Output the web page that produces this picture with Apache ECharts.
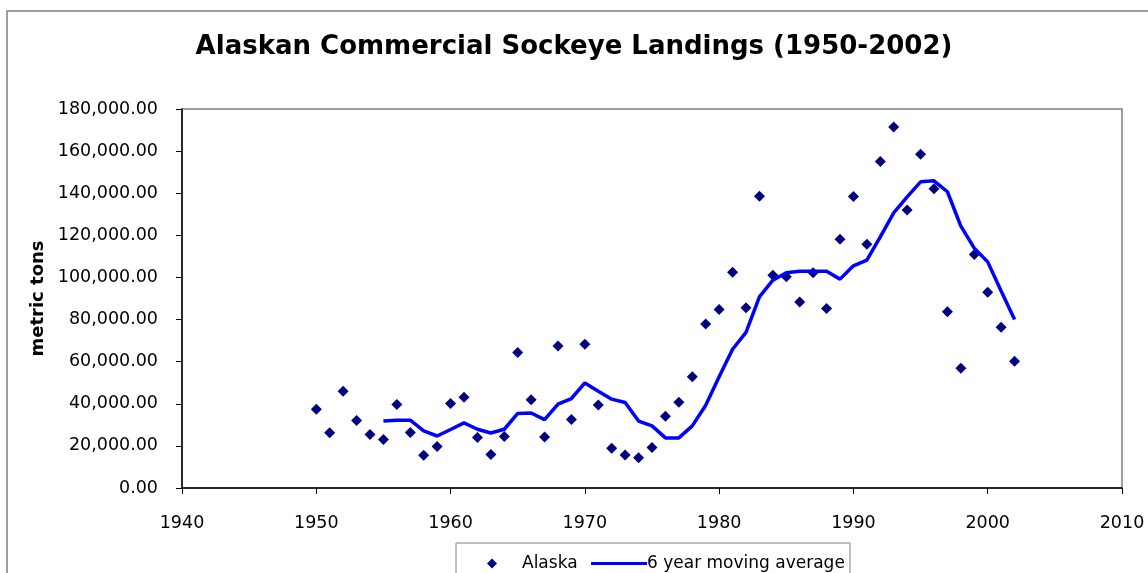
<!DOCTYPE html>
<html>
<head>
<meta charset="utf-8">
<script src="https://cdn.jsdelivr.net/npm/echarts@6/dist/echarts.min.js"></script>
<style>
  html, body { margin: 0; padding: 0; background: #fff; }
  #chart { width: 1148px; height: 573px; }
</style>
</head>
<body>
<div id="chart"></div>
<script>
// landings in metric tons
const years = [1950, 1951, 1952, 1953, 1954, 1955, 1956, 1957, 1958, 1959,
  1960, 1961, 1962, 1963, 1964, 1965, 1966, 1967, 1968, 1969,
  1970, 1971, 1972, 1973, 1974, 1975, 1976, 1977, 1978, 1979,
  1980, 1981, 1982, 1983, 1984, 1985, 1986, 1987, 1988, 1989,
  1990, 1991, 1992, 1993, 1994, 1995, 1996, 1997, 1998, 1999,
  2000, 2001, 2002];
const alaska = [37400, 26200, 46000, 32000, 25400, 23000, 39600, 26300, 15500, 19700,
  40100, 43100, 24000, 15900, 24400, 64400, 41900, 24200, 67500, 32500,
  68300, 39400, 18900, 15700, 14400, 19200, 34100, 40700, 52800, 77900,
  84800, 102500, 85600, 138600, 101100, 100300, 88300, 102200, 85300, 118100,
  138500, 115800, 155100, 171400, 132000, 158500, 142100, 83700, 56900, 110900,
  93000, 76400, 60200];
// moving average starts at 1955
const avgYears = years.slice(5);
const movingAvg = [31800, 32200, 32200, 27100, 24700,
  27800, 30900, 27900, 26100, 27900, 35400, 35600, 32500, 39800, 42500,
  49900, 46000, 42200, 40600, 31800, 29500, 23800, 23800, 29500, 39300,
  52800, 65900, 73900, 90800, 98700, 102200, 102900, 102900, 102900, 99200,
  105500, 108200, 119300, 130700, 138300, 145400, 145900, 140700, 124400, 113900,
  107400, 93600, 80000];

const fmt = v => v.toLocaleString('en-US', { minimumFractionDigits: 2, maximumFractionDigits: 2 });
const font = 'Verdana, "DejaVu Sans", sans-serif';

const chart = echarts.init(document.getElementById('chart'));
chart.setOption({
  animation: false,
  backgroundColor: '#fff',
  title: {
    text: 'Alaskan Commercial Sockeye Landings (1950-2002)',
    left: 'center',
    top: 29,
    textStyle: { fontFamily: font, fontWeight: 'bold', fontSize: 26, color: '#000' }
  },
  graphic: [
    { type: 'rect', shape: { x: 7, y: 11, width: 1200, height: 600 },
      style: { fill: 'none', stroke: '#808080', lineWidth: 1.5 }, silent: true },
    { type: 'rect', shape: { x: 456, y: 543, width: 394, height: 40 },
      style: { fill: '#fff', stroke: '#808080', lineWidth: 1 }, silent: true, z: -1 }
  ],
  grid: {
    left: 182, right: 26, top: 109, bottom: 85,
    show: true, borderColor: '#808080', borderWidth: 1.5
  },
  legend: [
    { data: ['Alaska'], left: 482, top: 550, icon: 'diamond', itemWidth: 10, itemHeight: 10,
      itemGap: 0, textStyle: { fontFamily: font, fontSize: 17, color: '#000', padding: [0, 0, 0, 20] } },
    { data: ['6 year moving average'], left: 586, top: 550, icon: 'rect', itemWidth: 56, itemHeight: 3,
      itemGap: 0, textStyle: { fontFamily: font, fontSize: 17, color: '#000', padding: [0, 0, 0, -5] } }
  ],
  xAxis: {
    type: 'value', min: 1940, max: 2010, interval: 10,
    splitLine: { show: false },
    axisLine: { lineStyle: { color: '#000', width: 1.5 } },
    axisTick: { show: true, length: 6, lineStyle: { color: '#000' } },
    axisLabel: { margin: 26, fontFamily: font, fontSize: 17.5, color: '#000', formatter: v => String(v) }
  },
  yAxis: {
    type: 'value', min: 0, max: 180000, interval: 20000,
    name: 'metric tons', nameLocation: 'middle', nameRotate: 90, nameGap: 135,
    nameTextStyle: { fontFamily: font, fontWeight: 'bold', fontSize: 18, color: '#000' },
    splitLine: { show: false },
    axisLine: { show: true, lineStyle: { color: '#000', width: 1.5 } },
    axisTick: { show: true, length: 6, lineStyle: { color: '#000' } },
    axisLabel: { margin: 24, fontFamily: font, fontSize: 17.5, color: '#000', formatter: fmt }
  },
  series: [
    {
      name: 'Alaska', type: 'scatter', symbol: 'diamond', symbolSize: 11,
      itemStyle: { color: '#000080', opacity: 1 },
      data: years.map((y, i) => [y, alaska[i]])
    },
    {
      name: '6 year moving average', type: 'line', showSymbol: false, symbol: 'none',
      lineStyle: { color: '#0000ff', width: 3.5 }, itemStyle: { color: '#0000ff' },
      data: avgYears.map((y, i) => [y, movingAvg[i]])
    }
  ]
});
</script>
</body>
</html>
